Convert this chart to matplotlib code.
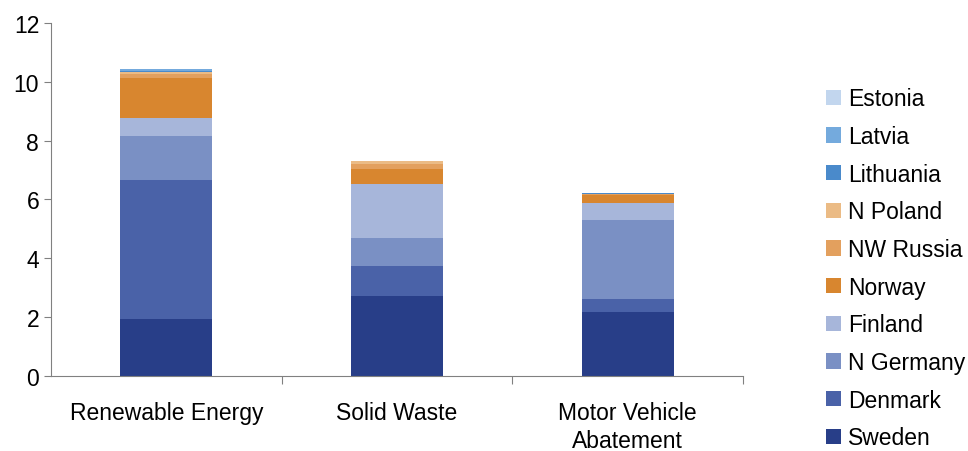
import numpy as np
import matplotlib.pyplot as plt

plt.rcParams['font.family'] = ['Liberation Sans', 'DejaVu Sans']

categories = ['Renewable Energy', 'Solid Waste', 'Motor Vehicle\nAbatement']

# stacked from the bottom up
regions = ['Sweden', 'Denmark', 'N Germany', 'Finland', 'Norway',
           'NW Russia', 'N Poland', 'Lithuania', 'Latvia', 'Estonia']

sweden = [1.94, 2.72, 2.18]
denmark = [4.72, 1.02, 0.44]
n_germany = [1.50, 0.95, 2.68]
finland = [0.61, 1.84, 0.58]
norway = [1.36, 0.51, 0.27]
nw_russia = [0.14, 0.17, 0.02]
n_poland = [0.06, 0.10, 0.02]
lithuania = [0.03, 0.00, 0.02]
latvia = [0.07, 0.00, 0.01]
estonia = [0.01, 0.00, 0.00]

values = [sweden, denmark, n_germany, finland, norway,
          nw_russia, n_poland, lithuania, latvia, estonia]

colors = ['#283E88', '#4A62A8', '#7A90C4', '#A7B6DA', '#D8862F',
          '#E3A05E', '#EBBB85', '#4A8ACB', '#74AADD', '#C2D6EE']

fig = plt.figure(figsize=(9.68, 4.52), dpi=100)
ax = fig.add_axes([0.0527, 0.166, 0.7149, 0.781])

x = np.arange(len(categories))
bottom = np.zeros(len(categories))
for name, vals, col in zip(regions, values, colors):
    ax.bar(x, vals, 0.4, bottom=bottom, color=col, label=name)
    bottom += np.array(vals)

ax.set_xlim(-0.5, 2.5)
ax.set_ylim(0, 12)
ax.set_yticks(range(0, 13, 2))
ax.set_xticks(x)
ax.set_xticklabels(categories, fontsize=16.5, linespacing=1.3)
ax.tick_params(axis='x', length=0, pad=18)
ax.set_xticks([0.5, 1.5, 2.5], minor=True)
ax.tick_params(axis='x', which='minor', length=6, width=0.8, color='#808080')
ax.tick_params(axis='y', length=5, width=0.8, color='#808080', labelsize=16.5)

for s in ['top', 'right']:
    ax.spines[s].set_visible(False)
for s in ['left', 'bottom']:
    ax.spines[s].set_color('#808080')
    ax.spines[s].set_linewidth(0.8)

handles, labels = ax.get_legend_handles_labels()
ax.legend(handles[::-1], labels[::-1], loc='center left',
          bbox_to_anchor=(1.107, 0.305), frameon=False, fontsize=16.5,
          handlelength=0.65, handleheight=0.65, handletextpad=0.3,
          labelspacing=0.64, borderaxespad=0)

fig.savefig('out.png', dpi=100)
